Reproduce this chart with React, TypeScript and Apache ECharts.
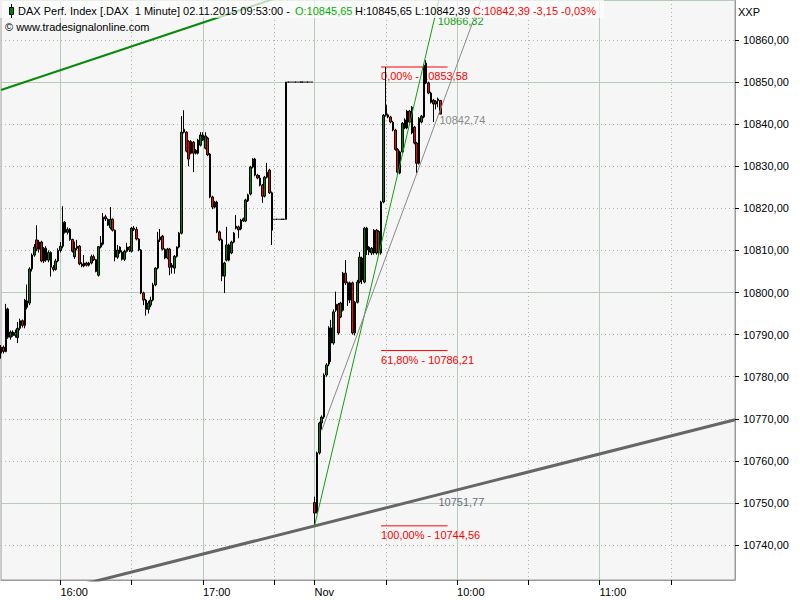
import React, { useEffect, useRef } from 'react';
import * as echarts from 'echarts';

const FONT = '"Liberation Sans", Arial, sans-serif';

// candles: [open, close, low, high]
const oct30: number[][] = [
  [10785.6, 10787.0, 10784.3, 10787.5], [10787.0, 10786.0, 10785.5, 10787.4], [10786.0, 10796.1, 10785.8, 10797.3],
  [10796.1, 10789.4, 10789.0, 10796.4], [10789.4, 10790.6, 10788.8, 10791.0], [10790.6, 10789.8, 10789.5, 10791.0],
  [10789.8, 10790.5, 10789.3, 10791.2], [10789.3, 10791.5, 10788.0, 10793.0], [10791.5, 10793.3, 10791.0, 10793.8],
  [10793.3, 10792.2, 10791.7, 10793.6], [10792.2, 10798.2, 10791.5, 10798.5], [10796.5, 10798.0, 10796.0, 10801.9],
  [10797.5, 10805.6, 10797.0, 10806.0], [10805.6, 10808.9, 10805.0, 10809.3], [10808.9, 10810.8, 10808.5, 10811.5],
  [10812.5, 10810.3, 10809.8, 10816.0], [10810.3, 10812.0, 10809.5, 10812.5], [10812.0, 10807.5, 10807.2, 10812.3],
  [10807.5, 10810.5, 10807.0, 10810.8], [10810.5, 10807.7, 10807.3, 10811.0], [10807.7, 10809.5, 10807.2, 10810.0],
  [10809.5, 10806.0, 10803.8, 10809.8], [10806.0, 10805.5, 10805.0, 10806.5], [10805.5, 10807.5, 10805.2, 10808.0],
  [10807.5, 10810.0, 10807.2, 10810.5], [10810.0, 10811.0, 10809.5, 10812.0], [10811.0, 10816.7, 10810.5, 10820.5],
  [10816.7, 10814.3, 10814.0, 10817.0], [10814.3, 10815.0, 10813.8, 10815.5], [10815.0, 10812.6, 10812.3, 10815.3],
  [10812.6, 10809.8, 10809.5, 10812.8], [10808.5, 10810.5, 10808.0, 10812.1], [10810.5, 10811.0, 10810.0, 10812.5],
  [10811.0, 10806.8, 10806.5, 10811.3], [10806.8, 10806.3, 10806.0, 10807.2], [10806.3, 10807.0, 10806.0, 10808.9],
  [10807.0, 10806.5, 10806.2, 10807.3], [10806.5, 10807.0, 10806.2, 10807.3], [10807.0, 10808.5, 10806.7, 10809.0],
  [10808.5, 10807.8, 10807.5, 10809.0], [10807.8, 10805.0, 10804.8, 10808.0], [10804.1, 10810.9, 10803.8, 10811.0],
  [10810.8, 10811.8, 10810.5, 10813.4], [10811.5, 10817.9, 10811.2, 10818.9], [10818.0, 10817.5, 10817.0, 10818.5],
  [10817.4, 10816.0, 10815.8, 10817.6], [10815.4, 10817.4, 10815.0, 10820.3], [10817.4, 10814.8, 10814.5, 10817.6],
  [10814.8, 10808.4, 10807.4, 10815.0], [10808.4, 10810.1, 10808.0, 10811.3], [10810.8, 10809.6, 10809.2, 10811.0],
  [10809.6, 10807.9, 10807.6, 10810.0], [10807.9, 10809.8, 10807.5, 10810.2], [10809.8, 10810.8, 10809.5, 10811.8],
  [10810.8, 10810.1, 10809.6, 10811.0], [10809.8, 10815.3, 10809.5, 10815.6], [10815.3, 10815.0, 10814.6, 10815.8],
  [10815.0, 10812.7, 10812.4, 10815.6], [10812.7, 10810.1, 10809.8, 10812.9], [10810.1, 10799.9, 10799.6, 10810.3],
  [10799.9, 10798.2, 10797.0, 10800.2], [10798.2, 10796.0, 10794.5, 10798.5], [10796.0, 10797.5, 10795.0, 10798.0],
  [10797.0, 10798.2, 10796.5, 10799.0], [10798.2, 10801.8, 10797.9, 10802.3], [10801.8, 10805.8, 10801.5, 10806.0],
  [10805.8, 10812.5, 10805.5, 10814.4], [10812.5, 10813.2, 10812.0, 10815.1], [10813.4, 10810.3, 10810.0, 10813.7],
  [10810.3, 10808.2, 10807.9, 10810.5], [10808.2, 10810.3, 10807.9, 10810.6], [10810.3, 10806.0, 10804.1, 10810.6],
  [10806.0, 10806.5, 10804.5, 10807.0], [10805.8, 10808.6, 10804.5, 10808.9], [10808.6, 10810.8, 10808.3, 10811.0],
  [10810.8, 10814.1, 10810.5, 10814.4], [10814.1, 10838.1, 10813.8, 10841.9], [10838.8, 10838.1, 10837.8, 10843.3],
  [10838.1, 10833.6, 10833.3, 10838.3], [10835.9, 10831.7, 10830.0, 10836.2], [10833.1, 10835.9, 10832.8, 10836.2],
  [10835.7, 10833.1, 10828.6, 10836.0], [10833.8, 10833.1, 10832.8, 10834.1], [10833.1, 10836.2, 10832.8, 10836.5],
  [10835.0, 10837.4, 10834.7, 10838.1], [10836.2, 10837.4, 10836.0, 10838.1], [10834.3, 10837.2, 10834.0, 10838.1],
  [10836.7, 10832.7, 10832.4, 10837.0], [10832.9, 10822.7, 10822.4, 10833.1], [10822.7, 10820.3, 10819.8, 10823.0],
  [10820.3, 10821.5, 10820.0, 10821.8], [10821.5, 10814.4, 10814.1, 10821.8], [10814.4, 10812.5, 10812.2, 10814.7],
  [10812.5, 10803.9, 10802.7, 10812.8], [10803.9, 10807.0, 10799.9, 10807.3], [10807.7, 10811.3, 10807.4, 10815.6],
  [10811.3, 10807.7, 10807.4, 10811.6], [10809.4, 10812.0, 10809.1, 10812.3], [10812.0, 10814.1, 10811.7, 10814.4],
  [10815.8, 10815.3, 10815.0, 10818.4], [10815.6, 10814.9, 10812.9, 10815.9], [10815.1, 10817.2, 10814.8, 10817.5],
  [10817.0, 10817.5, 10816.8, 10817.8], [10817.0, 10822.0, 10816.7, 10822.3], [10821.8, 10823.2, 10821.5, 10823.5],
  [10823.4, 10829.8, 10823.1, 10830.1], [10829.8, 10831.7, 10829.5, 10831.9], [10831.7, 10827.9, 10827.6, 10832.0],
  [10827.9, 10827.2, 10826.9, 10828.2], [10827.2, 10825.5, 10825.2, 10827.9], [10825.5, 10822.9, 10821.3, 10825.8],
  [10822.9, 10827.4, 10822.6, 10827.7], [10827.4, 10828.6, 10827.1, 10830.8], [10829.1, 10823.7, 10823.4, 10829.4],
  [10823.7, 10814.8, 10811.3, 10824.0],
  [10817.4, 10817.4, 10817.4, 10817.4], [10817.4, 10817.4, 10817.4, 10817.4], [10817.4, 10817.4, 10817.4, 10817.4],
  [10817.4, 10817.4, 10817.4, 10817.4], [10817.4, 10817.4, 10817.4, 10817.4],
  [10817.4, 10850.0, 10817.4, 10850.0],
  [10850.0, 10850.0, 10850.0, 10850.0], [10850.0, 10850.0, 10850.0, 10850.0], [10850.0, 10850.0, 10850.0, 10850.0],
  [10850.0, 10850.0, 10850.0, 10850.0], [10850.0, 10850.0, 10850.0, 10850.0], [10850.0, 10850.0, 10850.0, 10850.0],
  [10850.0, 10850.0, 10850.0, 10850.0], [10850.0, 10850.0, 10850.0, 10850.0], [10850.0, 10850.0, 10850.0, 10850.0],
  [10850.0, 10850.0, 10850.0, 10850.0], [10850.0, 10850.0, 10850.0, 10850.0],
];

const nov2: number[][] = [
  [10750.1, 10747.6, 10744.56, 10751.5], [10747.8, 10761.9, 10747.5, 10762.2], [10761.9, 10769.0, 10761.5, 10769.3],
  [10769.0, 10770.4, 10767.5, 10770.8], [10770.4, 10780.4, 10770.0, 10780.8], [10780.4, 10782.8, 10780.0, 10783.2],
  [10783.0, 10791.6, 10782.5, 10792.0], [10791.6, 10788.0, 10783.5, 10793.5], [10788.0, 10795.4, 10787.6, 10796.0],
  [10795.8, 10797.2, 10795.4, 10800.2], [10797.2, 10790.4, 10790.0, 10797.5], [10794.2, 10797.5, 10793.9, 10797.8],
  [10795.8, 10804.6, 10795.5, 10804.9], [10804.6, 10802.3, 10801.8, 10807.7], [10802.3, 10798.2, 10796.8, 10802.6],
  [10798.2, 10802.3, 10797.5, 10802.6], [10802.3, 10790.4, 10790.0, 10802.6], [10790.4, 10797.7, 10789.8, 10798.0],
  [10797.7, 10802.5, 10797.4, 10803.0], [10802.5, 10808.4, 10802.2, 10809.6], [10808.2, 10803.0, 10802.0, 10808.5],
  [10802.5, 10815.3, 10802.2, 10815.6], [10815.3, 10810.1, 10808.9, 10815.6], [10809.6, 10810.8, 10808.9, 10811.0],
  [10809.4, 10810.5, 10808.9, 10810.8], [10809.4, 10814.8, 10809.0, 10815.1], [10814.8, 10809.4, 10809.0, 10815.1],
  [10809.6, 10814.5, 10809.0, 10814.8], [10809.4, 10821.5, 10809.0, 10821.8], [10821.5, 10842.1, 10821.2, 10842.4],
  [10842.1, 10844.5, 10841.8, 10853.58], [10841.7, 10842.2, 10841.4, 10842.5], [10841.7, 10840.5, 10840.2, 10842.0],
  [10840.5, 10838.6, 10838.3, 10840.8], [10838.6, 10834.0, 10833.7, 10838.9], [10834.0, 10828.6, 10828.1, 10834.3],
  [10828.4, 10833.4, 10828.1, 10833.7], [10833.4, 10840.2, 10833.1, 10840.5], [10841.0, 10839.1, 10838.8, 10841.4],
  [10839.1, 10843.1, 10838.8, 10843.4], [10843.1, 10840.5, 10840.2, 10843.4], [10837.9, 10844.0, 10837.6, 10844.3],
  [10839.3, 10835.5, 10835.2, 10839.6], [10835.5, 10830.7, 10828.4, 10835.8], [10830.7, 10841.4, 10830.4, 10841.7],
  [10840.5, 10841.9, 10840.2, 10842.2], [10841.7, 10854.0, 10841.4, 10854.3], [10854.5, 10849.8, 10849.5, 10855.2],
  [10849.8, 10847.4, 10847.1, 10850.1], [10847.4, 10845.2, 10844.9, 10847.7], [10845.7, 10844.8, 10840.5, 10846.0],
  [10844.8, 10845.4, 10843.5, 10845.7], [10846.0, 10845.6, 10844.0, 10846.3], [10845.65, 10842.39, 10842.39, 10845.65],
];

// sessions (start hour, start minute, number of one-minute slots on the axis)
const oct30Session = [15, 35, 132];
const nov2Session = [9, 0, 178];

const hourTicks = ['16:00', '17:00', '09:00', '10:00', '11:00'];
const halfHourTicks = ['16:30', '17:30', '09:30', '10:30', '11:30'];
const dayStartLabel = 'Nov';

const yMin = 10731.7;
const yMax = 10869.5;

// trend lines: [category index, value]
const thickGreenTrend = [[0, 10848.1], [131, 10872.8]];
const thickGrayTrend = [[0, 10725.76], [185, 10752.1], [309, 10769.77]];
const thinGreenTrend = [[132, 10744.56], [183, 10866.32], [187, 10875.9]];
const thinGrayTrend = [[135, 10767.2], [185, 10843.5], [205, 10874.0]];
const trendLabels = ['10866,32', '10842,74', '10751,77'];

const fibPercents = ['0,00%', '61,80%', '100,00%'];
const fibValues = [10853.58, 10786.21, 10744.56];
const fibSpan = [160, 188];

const headerTitle = 'DAX Perf. Index [.DAX  1 Minute] 02.11.2015 09:53:00 -';
const headerChange = '-3,15 -0,03%';

const fmt = (v: number) => v.toFixed(2).replace('.', ',');

function minuteLabels(h: number, m: number, count: number) {
  const out: string[] = [];
  for (let k = 0; k < count; k++) {
    const t = h * 60 + m + k;
    out.push(String(Math.floor(t / 60)).padStart(2, '0') + ':' + String(t % 60).padStart(2, '0'));
  }
  return out;
}

function lineSeries(data: number[][], color: string, width: number, z: number, labelAt = -1, labelText = '', labelColor = '', offset = [0, 0]) {
  return {
    type: 'line',
    data: data.map((p, i) =>
      i === labelAt
        ? {
            value: p,
            label: {
              show: true, formatter: labelText, position: 'right', distance: 0, offset,
              color: labelColor, fontSize: 11, fontFamily: FONT,
            },
          }
        : { value: p }
    ),
    symbol: 'circle',
    symbolSize: 0,
    showSymbol: true,
    silent: true,
    z,
    lineStyle: { color, width },
    itemStyle: { color },
    emphasis: { disabled: true },
  };
}

export default function App() {
  const ref = useRef<HTMLDivElement>(null);
  useEffect(() => {
    if (!ref.current) return;
    const chart = echarts.init(ref.current, undefined, { renderer: 'svg' });
    const times = [
      ...minuteLabels(oct30Session[0], oct30Session[1], oct30Session[2]),
      ...minuteLabels(nov2Session[0], nov2Session[1], nov2Session[2]),
    ];
    const candles = [...oct30, ...nov2];
    const last = nov2[nov2.length - 1];
    const axisFont = { fontSize: 11, fontFamily: FONT, color: '#000' };

    const fibSeries = fibValues.map((v, k) =>
      lineSeries([[fibSpan[0], v], [fibSpan[1], v]], '#ff0000', 1, 2, 0, `${fibPercents[k]} - ${fmt(v)}`, '#ff0000', [0, 9])
    );

    chart.setOption({
      animation: false,
      backgroundColor: '#ffffff',
      grid: {
        left: 1, right: 65, top: 0, bottom: 20,
        show: true, backgroundColor: '#f6f6f6', borderColor: '#9a9a9a', borderWidth: 1,
      },
      xAxis: [
        {
          type: 'category', data: times, boundaryGap: false, position: 'bottom',
          axisLine: { show: true, lineStyle: { color: '#9a9a9a' } },
          axisTick: {
            show: true, length: 5, lineStyle: { color: '#000' },
            interval: (_i: number, v: string) => hourTicks.includes(v) || halfHourTicks.includes(v),
          },
          axisLabel: {
            ...axisFont, align: 'left', margin: 6,
            interval: (_i: number, v: string) => hourTicks.includes(v),
            formatter: (v: string) => (v === hourTicks[2] ? dayStartLabel : v),
          },
          splitLine: {
            show: true, lineStyle: { color: '#b8cab8', width: 1 },
            interval: (_i: number, v: string) => hourTicks.includes(v),
          },
        },
        {
          type: 'category', data: times, boundaryGap: false, position: 'top',
          axisLine: { show: false }, axisTick: { show: false }, axisLabel: { show: false },
          splitLine: {
            show: true, lineStyle: { color: '#a4b8a4', width: 1, type: [1, 3] },
            interval: (_i: number, v: string) => halfHourTicks.includes(v),
          },
        },
      ],
      yAxis: [
        {
          type: 'value', position: 'right', min: yMin, max: yMax, splitNumber: 14,
          axisLine: { show: true, lineStyle: { color: '#9a9a9a' } },
          axisTick: { show: true, length: 4, lineStyle: { color: '#000' } },
          axisLabel: { ...axisFont, margin: 8, showMinLabel: false, showMaxLabel: false, formatter: (v: number) => fmt(v) },
          splitLine: { show: true, lineStyle: { color: '#a4b8a4', width: 1, type: [1, 3] } },
        },
        {
          type: 'value', position: 'right', min: yMin, max: yMax, splitNumber: 3,
          axisLine: { show: false }, axisTick: { show: false }, axisLabel: { show: false },
          splitLine: { show: true, lineStyle: { color: '#b8cab8', width: 1 } },
        },
      ],
      series: [
        ...fibSeries,
        {
          type: 'candlestick',
          data: candles,
          barWidth: 2,
          z: 3,
          silent: true,
          itemStyle: {
            color: '#008000', color0: '#ff0000',
            borderColor: '#000', borderColor0: '#000', borderColorDoji: '#000', borderWidth: 1,
          },
        },
        lineSeries(thickGrayTrend, '#666666', 3, 4, 1, trendLabels[2], '#6c6c7c', [-2, 8]),
        lineSeries(thickGreenTrend, '#0a8a0a', 2, 4),
        lineSeries(thinGreenTrend, '#11a011', 1, 4, 1, trendLabels[0], '#11a011', [2, 8]),
        lineSeries(thinGrayTrend, '#8a8a8a', 1, 4, 1, trendLabels[1], '#8a8a8a', [-1, 11]),
      ],
      graphic: [
        { type: 'rect', z: 100, shape: { x: 0, y: 0, width: 604, height: 18 }, style: { fill: 'rgba(255,255,255,0.7)' } },
        { type: 'line', z: 101, shape: { x1: 11.5, y1: 4, x2: 11.5, y2: 18 }, style: { stroke: '#000', lineWidth: 1 } },
        { type: 'rect', z: 102, shape: { x: 9.5, y: 7.5, width: 4, height: 7 }, style: { fill: '#008000', stroke: '#000', lineWidth: 1 } },
        { type: 'text', z: 101, x: 18, y: 11, style: { text: headerTitle, fill: '#000', font: `11px ${FONT}`, verticalAlign: 'middle' } },
        { type: 'text', z: 101, x: 295, y: 11, style: { text: `O:${fmt(last[0])}`, fill: '#00b000', font: `11px ${FONT}`, verticalAlign: 'middle' } },
        { type: 'text', z: 101, x: 355, y: 11, style: { text: `H:${fmt(last[3])}`, fill: '#000', font: `11px ${FONT}`, verticalAlign: 'middle' } },
        { type: 'text', z: 101, x: 415, y: 11, style: { text: `L:${fmt(last[2])}`, fill: '#000', font: `11px ${FONT}`, verticalAlign: 'middle' } },
        { type: 'text', z: 101, x: 473, y: 11, style: { text: `C:${fmt(last[1])} ${headerChange}`, fill: '#ff0000', font: `11px ${FONT}`, verticalAlign: 'middle' } },
        { type: 'text', z: 101, x: 5, y: 27, style: { text: '© www.tradesignalonline.com', fill: '#000', font: `11px ${FONT}`, verticalAlign: 'middle' } },
        { type: 'text', z: 101, x: 738, y: 12, style: { text: 'XXP', fill: '#000', font: `11px ${FONT}`, verticalAlign: 'middle' } },
      ],
    });
    return () => chart.dispose();
  }, []);
  return <div ref={ref} style={{ position: 'fixed', left: 0, top: 0, width: 800, height: 600 }} />;
}
